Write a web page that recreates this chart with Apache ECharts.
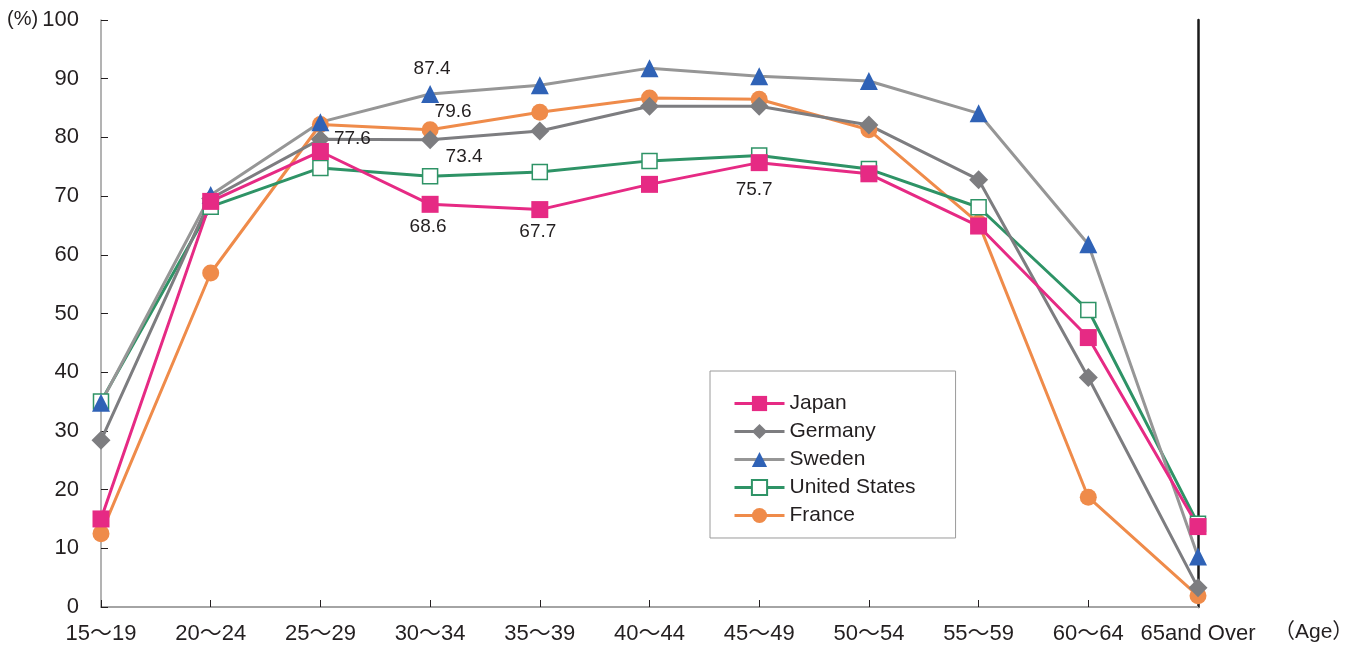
<!DOCTYPE html>
<html>
<head>
<meta charset="utf-8">
<script src="https://cdn.jsdelivr.net/npm/echarts@6/dist/echarts.min.js"></script>
<style>
  html, body { margin: 0; padding: 0; background: #fff; }
  #chart { width: 1349px; height: 648px; }
</style>
</head>
<body>
<div id="chart"></div>
<script>
// age groups (x axis)
var ageGroups = ['15～19', '20～24', '25～29', '30～34', '35～39', '40～44', '45～49', '50～54', '55～59', '60～64', '65and Over'];

// labour force participation rate, %
var japan   = [15.0, 69.1, 77.6, 68.6, 67.7, 72.0, 75.7, 73.8, 64.9, 45.9, 13.7];
var germany = [28.4, 69.6, 79.7, 79.6, 81.1, 85.3, 85.3, 82.1, 72.8, 39.1, 3.3];
var sweden  = [34.8, 70.2, 82.6, 87.4, 88.9, 91.8, 90.4, 89.6, 84.1, 61.8, 8.6];
var usa     = [35.0, 68.2, 74.8, 73.4, 74.1, 76.0, 76.9, 74.6, 68.1, 50.6, 14.2];
var france  = [12.5, 56.9, 82.2, 81.3, 84.3, 86.7, 86.5, 81.3, 65.4, 18.7, 1.9];

var yTicks = { min: 0, max: 100, step: 10 };

var FONT = '"Liberation Sans", Arial, "Noto Sans CJK JP", sans-serif';
var TXT = '#231f20';

// which points get a value label, and where it sits (label centre relative to point)
var notes = {
    japan:   { 2: [32, -13], 3: [-2, 22], 4: [-2, 22], 6: [-5, 27] },
    germany: { 3: [23, -28] },
    sweden:  { 3: [2, -25] },
    usa:     { 3: [34, -19] }
};

function withNotes(values, key) {
    var n = notes[key] || {};
    return values.map(function(v, i) {
        if (!n[i]) return v;
        return {
            value: v,
            label: {
                show: true,
                position: 'inside',
                offset: n[i],
                formatter: '{c}',
                color: TXT,
                fontSize: 19,
                fontFamily: FONT
            }
        };
    });
}

function lineSeries(name, values, key, color, lineColor, symbol, size, extra) {
    var s = {
        name: name,
        type: 'line',
        data: withNotes(values, key),
        symbol: symbol,
        symbolSize: size,
        lineStyle: { color: lineColor, width: 3 },
        itemStyle: { color: color },
        label: { show: false },
        emphasis: { disabled: true },
        animation: false
    };
    if (extra) s.itemStyle = extra;
    return s;
}

var chart = echarts.init(document.getElementById('chart'));
chart.setOption({
    backgroundColor: '#fff',
    textStyle: { fontFamily: FONT, color: TXT },
    grid: { left: 101, right: 151, top: 20, bottom: 41 },
    graphic: [
        { type: 'text', left: 7, top: 9, style: { text: '(%)', font: '20px ' + FONT, fill: TXT } },
        { type: 'text', left: 1274, top: 622, style: { text: '（Age）', font: '21px ' + FONT, fill: TXT } }
    ],
    legend: {
        orient: 'vertical',
        left: 710,
        top: 371,
        padding: [22, 40, 12, 23],
        borderColor: '#9a9a9a',
        borderWidth: 1,
        itemWidth: 50,
        itemHeight: 19,
        itemGap: 7,
        lineStyle: { width: 3 },
        textStyle: { fontSize: 21, color: TXT, fontFamily: FONT },
        data: ['Japan', 'Germany', 'Sweden', 'United States', 'France']
    },
    xAxis: [{
        type: 'category',
        data: ageGroups,
        boundaryGap: false,
        axisLine: { lineStyle: { color: '#b0b0b0', width: 2 } },
        axisTick: { inside: true, length: 7, lineStyle: { color: '#231f20' } },
        axisLabel: { interval: 0, fontSize: 22, color: TXT, margin: 16, fontFamily: FONT }
    }, {
        type: 'category',
        data: ageGroups,
        position: 'top',
        boundaryGap: false,
        axisLine: { lineStyle: { color: '#a0a0a0', width: 1.5 } },
        axisTick: { show: false },
        axisLabel: { show: false }
    }],
    yAxis: [{
        type: 'value',
        min: yTicks.min,
        max: yTicks.max,
        interval: yTicks.step,
        axisLine: { show: true, lineStyle: { color: '#9a9a9a', width: 1.5 } },
        axisTick: { show: true, inside: true, length: 7, lineStyle: { color: '#231f20' } },
        axisLabel: { fontSize: 22, color: TXT, margin: 22, fontFamily: FONT },
        splitLine: { show: false }
    }, {
        type: 'value',
        position: 'right',
        min: yTicks.min,
        max: yTicks.max,
        interval: yTicks.step,
        axisLine: { show: true, lineStyle: { color: '#1a1a1a', width: 2.5 } },
        axisTick: { show: false },
        axisLabel: { show: false },
        splitLine: { show: false }
    }],
    series: [
        lineSeries('France', france, 'france', '#ef8b4a', '#ef8b4a', 'circle', 17),
        lineSeries('United States', usa, 'usa', '#2e9366', '#2e9366', 'rect', 15,
            { color: '#ffffff', borderColor: '#2e9366', borderWidth: 1.5 }),
        lineSeries('Germany', germany, 'germany', '#7d7d80', '#7d7d80', 'diamond', 19),
        lineSeries('Sweden', sweden, 'sweden', '#2f62b6', '#969696', 'triangle', 18),
        lineSeries('Japan', japan, 'japan', '#e62a84', '#e62a84', 'rect', 17)
    ]
});
</script>
</body>
</html>
